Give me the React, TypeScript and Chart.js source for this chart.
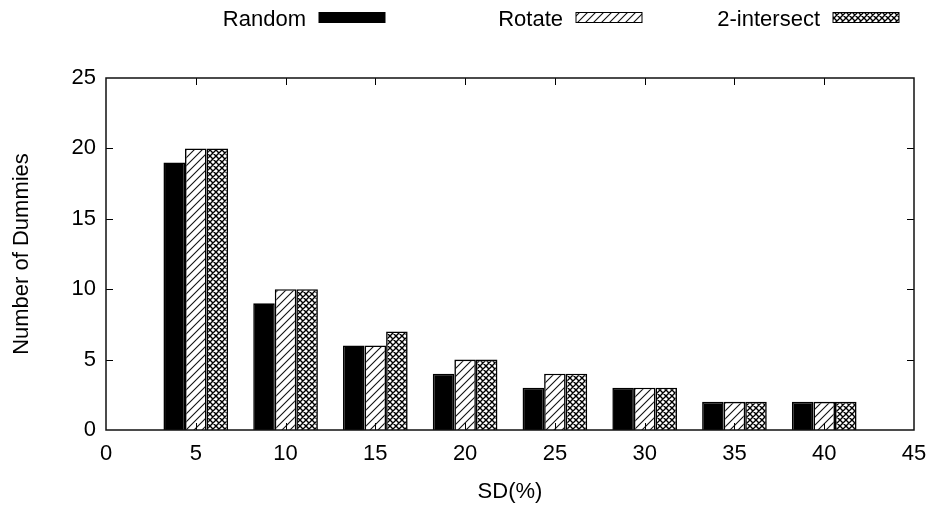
import React, { useEffect, useRef } from "react";
import { Chart, registerables } from "chart.js";

Chart.register(...registerables);

// ---- data ----
const sdValues = [5, 10, 15, 20, 25, 30, 35, 40];
const randomCounts = [19, 9, 6, 4, 3, 3, 2, 2];
const rotateCounts = [20, 10, 6, 5, 4, 3, 2, 2];
const intersectCounts = [20, 10, 7, 5, 4, 3, 2, 2];
const seriesNames = ["Random", "Rotate", "2-intersect"];
const xAxisRange = [0, 45];
const xTickStep = 5;
const yAxisRange = [0, 25];
const yTickStep = 5;
const xTitle = "SD(%)";
const yTitle = "Number of Dummies";

const FONT_FAMILY = '"Liberation Sans", Arial, Helvetica, sans-serif';
const FONT_SIZE = 22;

function makeHatch(): CanvasPattern | string {
  const s = 8;
  const c = document.createElement("canvas");
  c.width = s;
  c.height = s;
  const g = c.getContext("2d");
  if (!g) return "#fff";
  g.fillStyle = "#fff";
  g.fillRect(0, 0, s, s);
  g.strokeStyle = "#111";
  g.lineWidth = 1.1;
  g.beginPath();
  g.moveTo(-1, s + 1);
  g.lineTo(s + 1, -1);
  g.moveTo(-2, 2);
  g.lineTo(2, -2);
  g.moveTo(s - 2, s + 2);
  g.lineTo(s + 2, s - 2);
  g.stroke();
  return g.createPattern(c, "repeat") || "#fff";
}

function makeCross(): CanvasPattern | string {
  const s = 6;
  const c = document.createElement("canvas");
  c.width = s;
  c.height = s;
  const g = c.getContext("2d");
  if (!g) return "#888";
  g.fillStyle = "#fff";
  g.fillRect(0, 0, s, s);
  g.strokeStyle = "#000";
  g.lineWidth = 1.4;
  g.beginPath();
  for (let k = -1; k <= 1; k++) {
    g.moveTo(-1 + k * s, -1);
    g.lineTo(s + 1 + k * s, s + 1);
    g.moveTo(-1 + k * s, s + 1);
    g.lineTo(s + 1 + k * s, -1);
  }
  g.stroke();
  return g.createPattern(c, "repeat") || "#888";
}

const framePlugin = {
  id: "gnuFrame",
  afterDatasetsDraw(chart: any) {
    const { ctx, chartArea: a, scales } = chart;
    const xs = scales.x;
    const ys = scales.y;
    const tl = 7;
    ctx.save();
    ctx.strokeStyle = "#000";
    ctx.lineWidth = 1;
    ctx.beginPath();
    xs.ticks.forEach((_t: any, i: number) => {
      const px = Math.round(xs.getPixelForTick(i)) + 0.5;
      if (px <= a.left + 1 || px >= a.right - 1) return;
      ctx.moveTo(px, a.bottom);
      ctx.lineTo(px, a.bottom - tl);
      ctx.moveTo(px, a.top);
      ctx.lineTo(px, a.top + tl);
    });
    ys.ticks.forEach((_t: any, i: number) => {
      const py = Math.round(ys.getPixelForTick(i)) + 0.5;
      if (py <= a.top + 1 || py >= a.bottom - 1) return;
      ctx.moveTo(a.left, py);
      ctx.lineTo(a.left + tl, py);
      ctx.moveTo(a.right, py);
      ctx.lineTo(a.right - tl, py);
    });
    ctx.stroke();
    ctx.lineWidth = 1.5;
    ctx.strokeStyle = "#111";
    ctx.strokeRect(a.left, a.top, a.right - a.left, a.bottom - a.top);
    ctx.restore();
  },
  afterDraw(chart: any) {
    const { ctx } = chart;
    ctx.save();
    ctx.font = `${FONT_SIZE}px ${FONT_FAMILY}`;
    ctx.textAlign = "right";
    ctx.textBaseline = "middle";
    ctx.fillStyle = "#000";
    chart.data.datasets.forEach((ds: any, i: number) => {
      const textRight = 306 + 257 * i;
      ctx.fillText(ds.label, textRight, 19.5);
      const bx = textRight + 13;
      const by = 12.5;
      const bw = 66;
      const bh = 10;
      ctx.fillStyle = ds.backgroundColor;
      ctx.fillRect(bx, by, bw, bh);
      ctx.strokeStyle = "#000";
      ctx.lineWidth = 1;
      ctx.strokeRect(bx, by, bw, bh);
      ctx.fillStyle = "#000";
    });
    ctx.restore();
  },
};

export default function App() {
  const ref = useRef<HTMLCanvasElement | null>(null);

  useEffect(() => {
    if (!ref.current) return;
    const font = { family: FONT_FAMILY, size: FONT_SIZE };
    const hatch = makeHatch();
    const cross = makeCross();
    const series = [randomCounts, rotateCounts, intersectCounts];
    const fills = ["#000", hatch, cross];

    const chart = new Chart(ref.current, {
      type: "bar",
      data: {
        datasets: series.map((vals, i) => ({
          label: seriesNames[i],
          data: sdValues.map((x, j) => ({ x, y: vals[j] })),
          backgroundColor: fills[i] as any,
          borderColor: "#000",
          borderWidth: 1.6,
          categoryPercentage: 0.72,
          barPercentage: 1,
        })),
      },
      options: {
        animation: false,
        responsive: false,
        devicePixelRatio: 1,
        layout: { padding: { top: 78, right: 22, left: 0, bottom: 0 } },
        plugins: {
          legend: { display: false },
          tooltip: { enabled: false },
        },
        scales: {
          x: {
            type: "linear",
            min: xAxisRange[0],
            max: xAxisRange[1],
            offset: false,
            grid: { display: false, drawTicks: false, offset: false },
            border: { display: false },
            ticks: {
              stepSize: xTickStep,
              padding: 11,
              font,
              color: "#000",
              maxRotation: 0,
              autoSkip: false,
            },
            title: {
              display: true,
              text: xTitle,
              font,
              color: "#000",
              padding: { top: 0, bottom: 5 },
            },
            afterFit: (s: any) => {
              s.height = 80;
              s.paddingLeft = 0;
              s.paddingRight = 0;
            },
          },
          y: {
            type: "linear",
            min: yAxisRange[0],
            max: yAxisRange[1],
            grid: { display: false, drawTicks: false },
            border: { display: false },
            ticks: {
              stepSize: yTickStep,
              padding: 10,
              font,
              color: "#000",
            },
            title: {
              display: true,
              text: yTitle,
              font,
              color: "#000",
              padding: { top: 9, bottom: 0 },
            },
            afterFit: (s: any) => {
              s.width = 106;
              s.paddingTop = 0;
              s.paddingBottom = 0;
            },
          },
        },
      },
      plugins: [framePlugin],
    });
    return () => chart.destroy();
  }, []);

  return (
    <div style={{ position: "absolute", left: 0, top: 0, width: 936, height: 510, background: "#fff" }}>
      <canvas ref={ref} width={936} height={510} style={{ width: 936, height: 510, display: "block" }} />
    </div>
  );
}
